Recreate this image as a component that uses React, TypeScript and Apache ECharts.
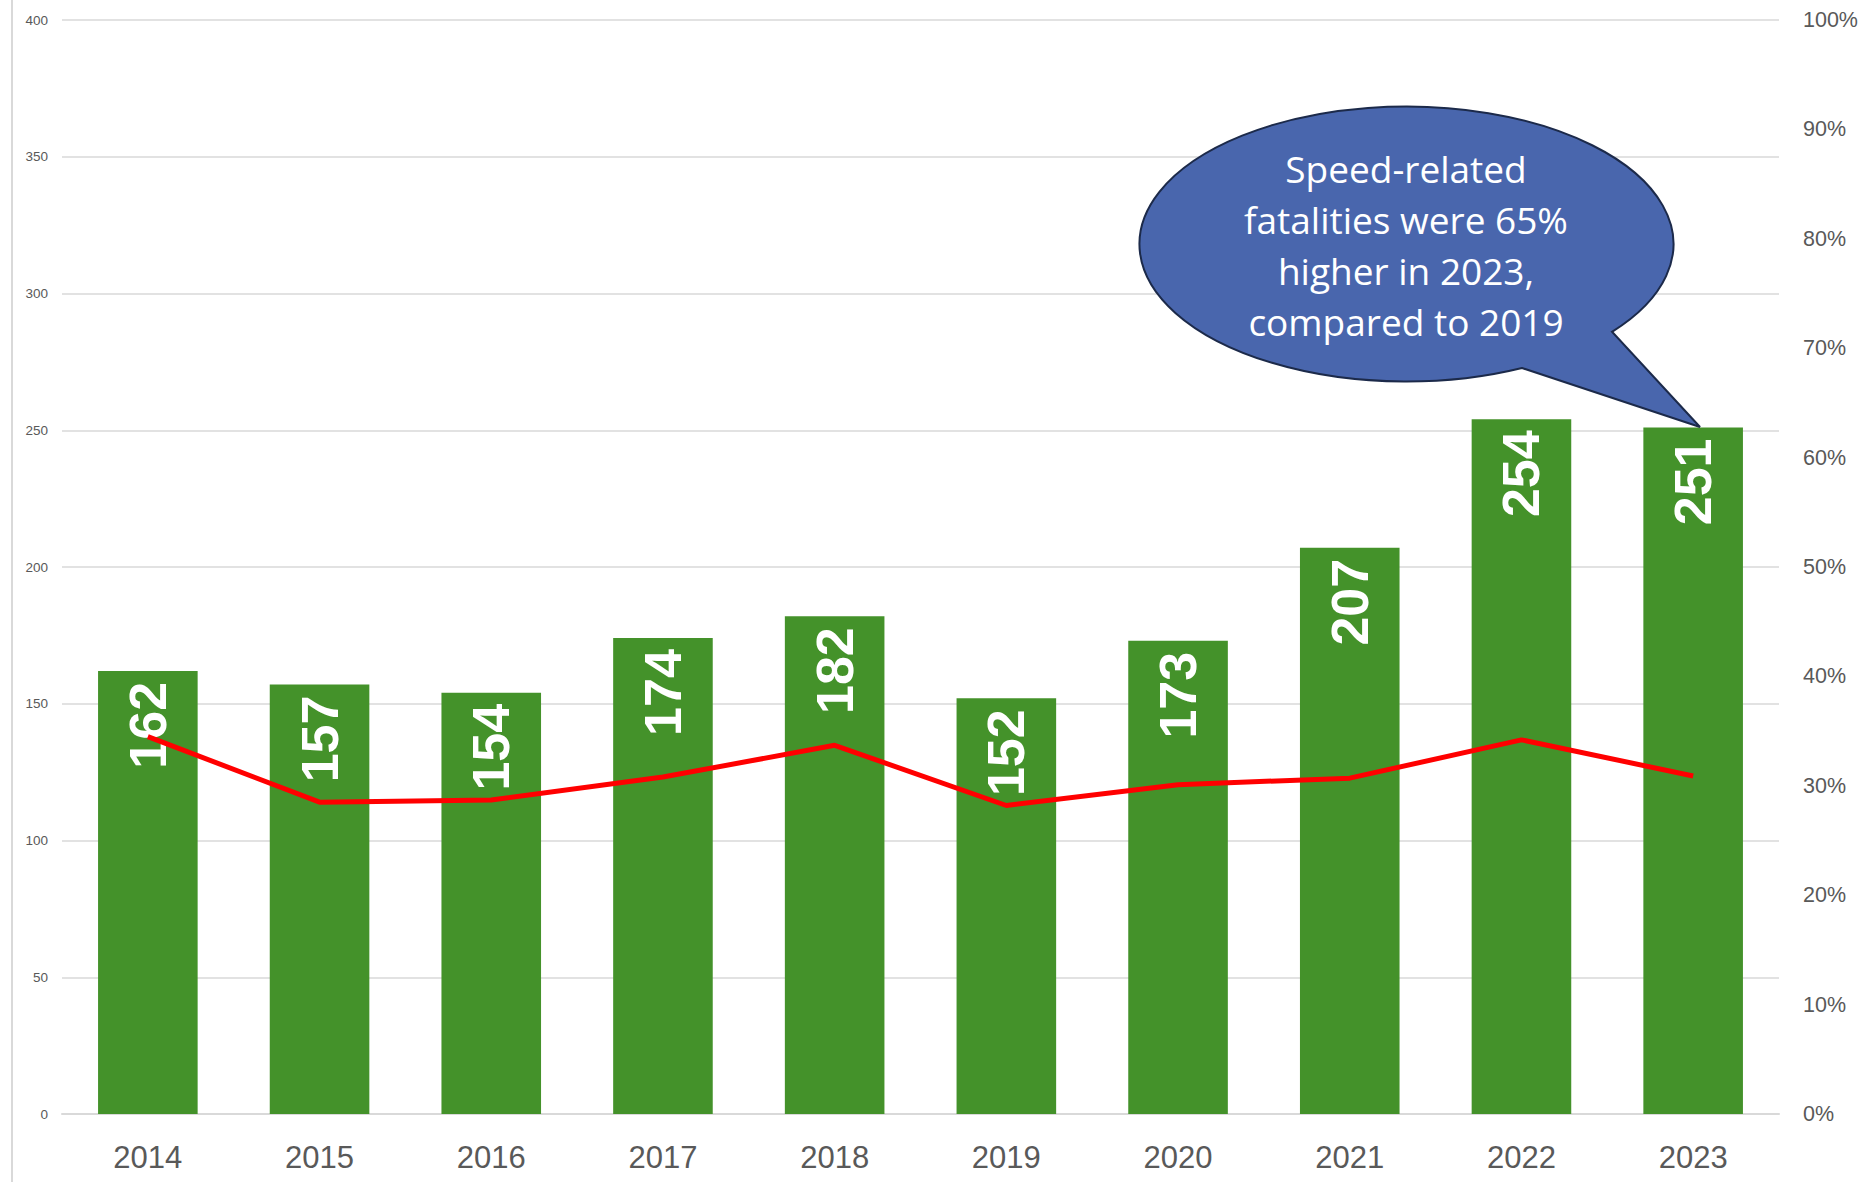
import React, { useEffect, useRef } from "react";
import * as echarts from "echarts";

const categories = ["2014", "2015", "2016", "2017", "2018", "2019", "2020", "2021", "2022", "2023"];
const fatalities = [162, 157, 154, 174, 182, 152, 173, 207, 254, 251];
const sharePct = [0.345, 0.285, 0.287, 0.308, 0.337, 0.282, 0.301, 0.307, 0.342, 0.309];
const calloutLines = ["Speed-related", "fatalities were 65%", "higher in 2023,", "compared to 2019"];

const CALLOUT_D =
  "M1522,368 L1700,427 L1612,331.8 A267,137.5 0 1 0 1522,368 Z";

let registered = false;

export default function App() {
  const ref = useRef<HTMLDivElement>(null);
  useEffect(() => {
    if (!ref.current) return;
    if (!registered) {
      echarts.graphic.registerShape("callout", echarts.graphic.extendPath(CALLOUT_D, {}) as any);
      registered = true;
    }
    const chart = echarts.init(ref.current, undefined, { renderer: "svg" });
    const font = "'Liberation Sans', Arial, sans-serif";
    chart.setOption({
      animation: false,
      backgroundColor: "#ffffff",
      grid: { left: 62, right: 91, top: 20, bottom: 68 },
      xAxis: {
        type: "category",
        data: categories,
        axisTick: { show: false },
        axisLine: { lineStyle: { color: "#d9d9d9", width: 2 } },
        axisLabel: {
          color: "#595959",
          fontSize: 31,
          fontFamily: font,
          margin: 28,
        },
      },
      yAxis: [
        {
          type: "value",
          min: 0,
          max: 400,
          interval: 50,
          axisLine: { show: false },
          axisTick: { show: false },
          splitLine: { lineStyle: { color: "#d9d9d9", width: 1.5 } },
          axisLabel: { color: "#595959", fontSize: 13.5, fontFamily: font, margin: 14 },
        },
        {
          type: "value",
          min: 0,
          max: 1,
          interval: 0.1,
          axisLine: { show: false },
          axisTick: { show: false },
          splitLine: { show: false },
          axisLabel: {
            color: "#595959",
            fontSize: 21.5,
            fontFamily: font,
            margin: 24,
            formatter: (v: number) => Math.round(v * 100) + "%",
          },
        },
      ],
      series: [
        {
          type: "bar",
          data: fatalities,
          barCategoryGap: "42%",
          itemStyle: { color: "#44922a" },
          label: {
            show: true,
            position: "insideTop",
            rotate: 90,
            align: "right",
            verticalAlign: "middle",
            distance: 11,
            color: "#ffffff",
            fontSize: 52,
            fontWeight: "bold",
            fontFamily: font,
          },
        },
        {
          type: "line",
          yAxisIndex: 1,
          data: sharePct,
          symbol: "none",
          lineStyle: { color: "#ff0000", width: 5 },
          z: 3,
        },
      ],
      graphic: [
        {
          type: "line",
          shape: { x1: 12, y1: 0, x2: 12, y2: 1182 },
          style: { stroke: "#d9d9d9", lineWidth: 2 },
        },
        {
          type: "callout",
          x: 0,
          y: 0,
          z: 100,
          style: { fill: "#4966ad", stroke: "#1c2a4a", lineWidth: 2 },
        },
        {
          type: "text",
          x: 1406,
          y: 245,
          z: 101,
          style: {
            text: calloutLines.join("\n"),
            fill: "#ffffff",
            font: "37px 'Open Sans', sans-serif",
            align: "center",
            verticalAlign: "middle",
            lineHeight: 51,
          },
        },
      ],
    } as any);
    return () => chart.dispose();
  }, []);
  return (
    <div
      ref={ref}
      style={{ position: "fixed", left: 0, top: 0, width: 1870, height: 1182 }}
    />
  );
}
